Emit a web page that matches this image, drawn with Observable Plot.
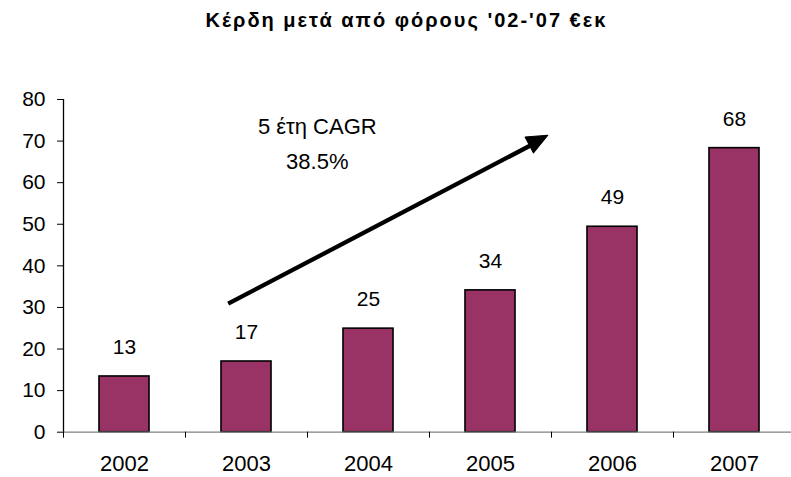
<!DOCTYPE html>
<html>
<head>
<meta charset="utf-8">
<script src="https://cdn.jsdelivr.net/npm/d3@7"></script>
<script src="https://cdn.jsdelivr.net/npm/@observablehq/plot@0.6"></script>
<style>
  body { margin: 0; background: #fff; font-family: "Liberation Sans", Arial, sans-serif; }
  #title { height: 40px; line-height: 41px; text-align: center; font-weight: bold; font-size: 20px; letter-spacing: 2px; padding-left: 22px; box-sizing: border-box; width: 791px; color: #000; white-space: nowrap; }
</style>
</head>
<body>
<div id="title">Κέρδη μετά από φόρους '02-'07 €εκ</div>
<div id="chart"></div>
<script>
const years = [2002, 2003, 2004, 2005, 2006, 2007];
const profits = [13.4, 17.0, 24.9, 34.1, 49.4, 68.3];
const valueLabels = ["13", "17", "25", "34", "49", "68"];
const yTicks = [0, 10, 20, 30, 40, 50, 60, 70, 80];
const annotationLines = ["5 έτη CAGR", "38.5%"];
const annotationYears = [2003.58, 2003.58];
const annotationValues = [73.3, 65.0];
const arrowStart = { year: 2002.85, value: 30.9 };
const arrowBase = { year: 2005.37, value: 69.6 };
const arrowTip = { year: 2005.47, value: 71.4 };

const data = years.map((y, i) => ({ year: y, value: profits[i], label: valueLabels[i] }));
const boundaries = d3.range(years[0] - 0.5, years[years.length - 1] + 1, 1);
const half = 0.205;

const headShape = {
  draw(context, l) {
    const w = 9;
    context.moveTo(0, -l);
    context.lineTo(w, 2);
    context.lineTo(-w, 2);
    context.closePath();
  }
};

const chart = Plot.plot({
  width: 791,
  height: 437,
  marginTop: 59,
  marginBottom: 45.3,
  marginLeft: 63,
  marginRight: -4,
  style: { fontFamily: '"Liberation Sans", Arial, sans-serif', color: "#000", background: "#fff" },
  x: { domain: [boundaries[0], boundaries[boundaries.length - 1]], axis: null },
  y: { domain: [0, 80], axis: null },
  marks: [
    Plot.rectY(data, { x1: d => d.year - half, x2: d => d.year + half, y1: 0, y2: "value", fill: "#993366", stroke: "#000", strokeWidth: 1.6 }),
    Plot.ruleY([0], { x1: boundaries[0], x2: boundaries[boundaries.length - 1], stroke: "#808080", strokeWidth: 1.3 }),
    Plot.ruleX([boundaries[0]], { y1: 0, y2: 80, stroke: "#000", strokeWidth: 1.3 }),
    Plot.axisY({ ticks: yTicks, tickSize: 6, tickPadding: 12, fontSize: 21, tickFormat: d => String(d), stroke: "#000", label: null }),
    Plot.axisX({ ticks: boundaries, tickSize: 6, tickFormat: () => "", stroke: "#000", label: null }),
    Plot.axisX({ ticks: years, tickSize: 0, tickPadding: 23, fontSize: 22, tickFormat: d => String(d), label: null }),
    Plot.text(data, { x: "year", y: "value", text: "label", dy: -29, lineAnchor: "middle", fontSize: 21, fill: "#000" }),
    Plot.text(annotationLines, { x: (d, i) => annotationYears[i], y: (d, i) => annotationValues[i], text: d => d, fontSize: 22, lineAnchor: "middle", fill: "#000" }),
    Plot.link([0], { x1: () => arrowStart.year, y1: () => arrowStart.value, x2: () => arrowBase.year, y2: () => arrowBase.value, stroke: "#000", strokeWidth: 4.3 }),
    Plot.vector([0], { x: () => arrowTip.year, y: () => arrowTip.value, length: 19, rotate: 62.2, anchor: "end", shape: headShape, fill: "#000", stroke: "#000", strokeWidth: 1 })
  ]
});
document.getElementById("chart").appendChild(chart);
</script>
</body>
</html>
